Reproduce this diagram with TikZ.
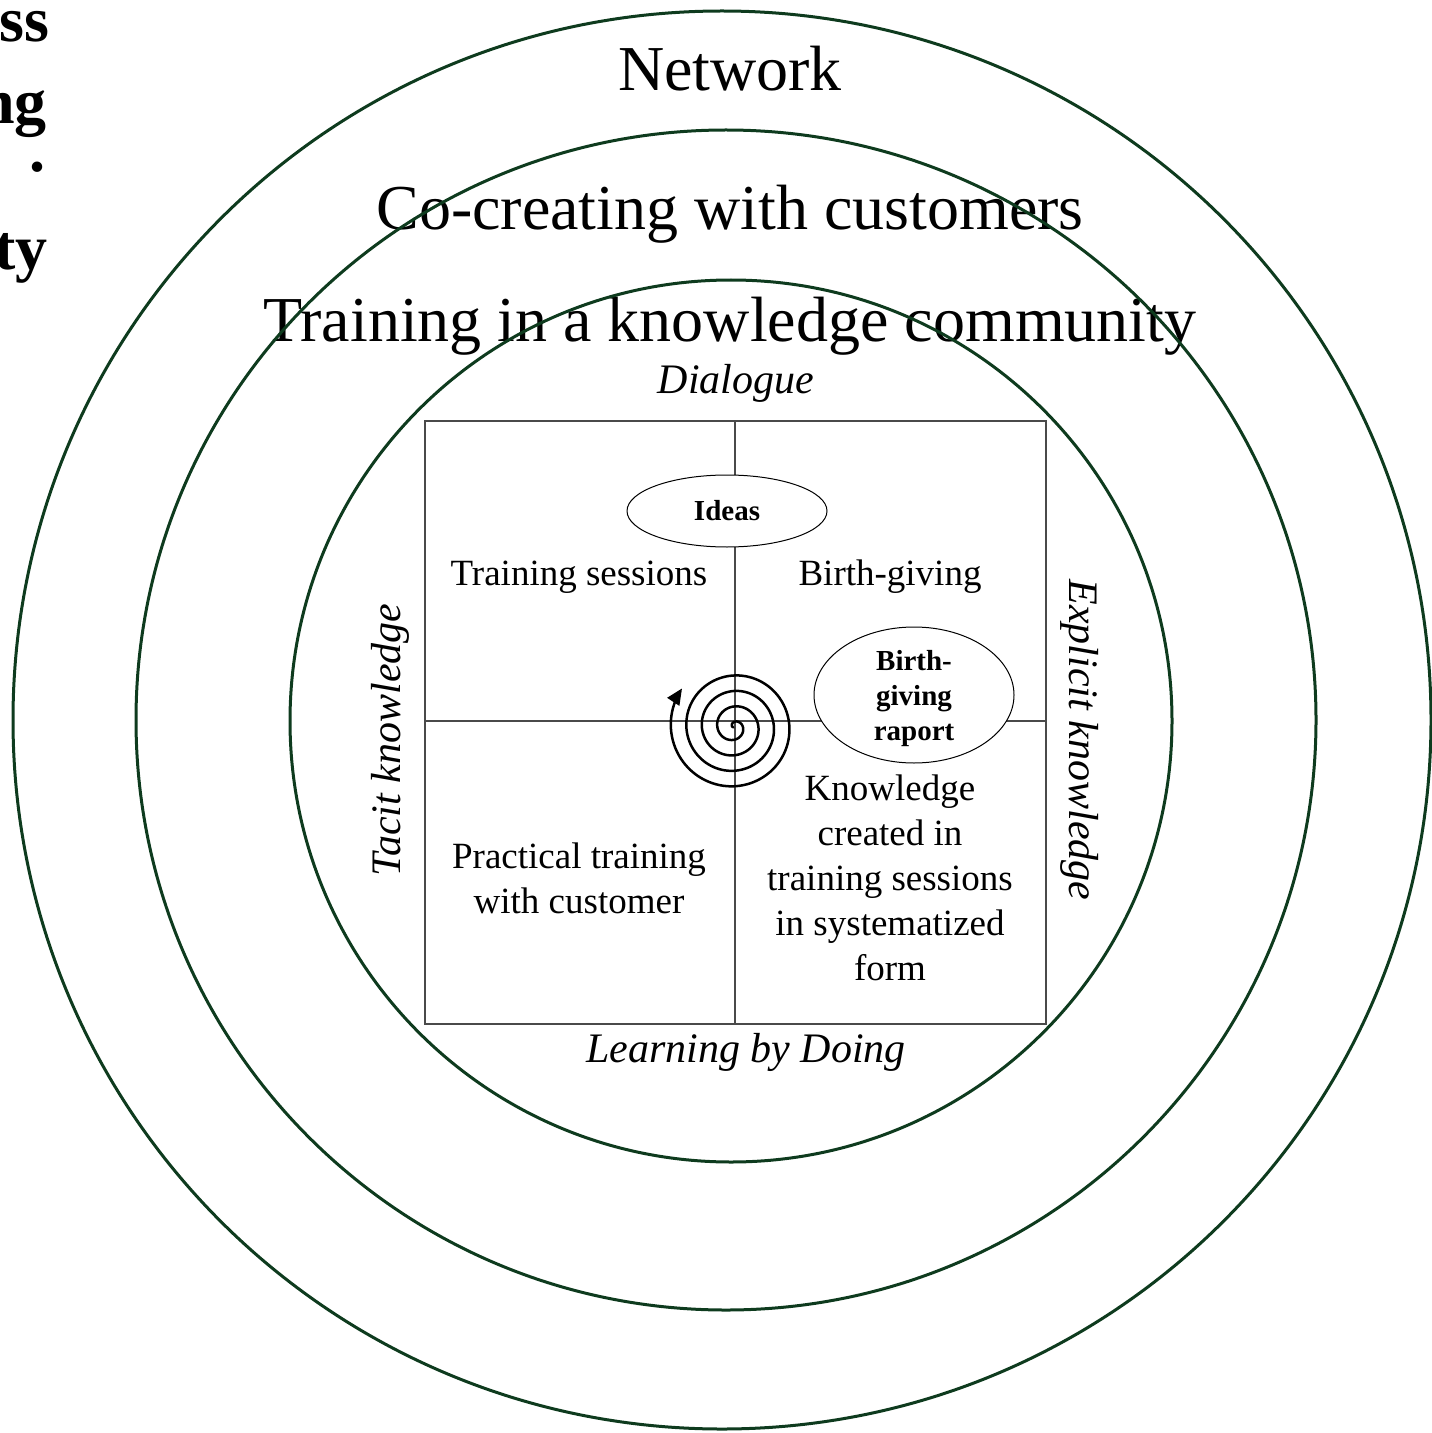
\documentclass[tikz,border=0pt]{standalone}
\usepackage{fontspec}
\setmainfont{Liberation Serif}
\usetikzlibrary{shapes.geometric,arrows.meta}
\definecolor{ringgreen}{HTML}{0E3B1E}
\definecolor{gridgray}{HTML}{4A4A4A}
\tikzset{
  ring/.style={draw=ringgreen,line width=1.5pt},
  grid/.style={draw=gridgray,line width=0.55pt},
  bigtxt/.style={font=\fontsize{32}{38}\selectfont,inner sep=0pt},
  bodytxt/.style={font=\fontsize{18.5}{22.5}\selectfont,align=center,inner sep=0pt},
  axistxt/.style={font=\fontsize{21}{25}\selectfont\itshape,inner sep=0pt},
  bubble/.style={ellipse,draw=black,line width=0.5pt,fill=white,inner sep=0pt,
     font=\fontsize{14.5}{17.5}\selectfont\bfseries,align=center},
  cuttxt/.style={font=\fontsize{32}{38}\selectfont\bfseries,inner sep=0pt,anchor=base east},
}
\begin{document}
\begin{tikzpicture}[x=0.5pt,y=-0.5pt]
\useasboundingbox (0,0) rectangle (1431,1433);
% clipped title fragments
\node[cuttxt] (f1) at (50,42) {ss};
\node[cuttxt] (f2) at (47,124) {ng};
\node[cuttxt] (f3) at (46,172) {.};
\node[cuttxt] (f4) at (48,270) {ty};
% ring titles
\node[bigtxt] (net) at (730,69) {Network};
\node[bigtxt] (cocr) at (730,214) {Co-creating with customers};
\node[bigtxt] (trk) at (730,326) {Training in a knowledge community};
% square and quadrant lines
\coordinate (sqA) at (425,421);
\coordinate (sqB) at (1046,1024);
\coordinate (vt) at (735,421);
\coordinate (vb) at (735,1024);
\coordinate (hl) at (425,721);
\coordinate (hr) at (1046,721);
\draw[grid] (sqA) rectangle (sqB);
\draw[grid] (vt) -- (vb);
\draw[grid] (hl) -- (hr);
% axis labels
\node[axistxt] (dia) at (736,383) {Dialogue};
\node[axistxt] (lbd) at (746,1052) {Learning by Doing};
\node[axistxt,rotate=90] (tac) at (390,740) {Tacit knowledge};
\node[axistxt,rotate=-90] (exp) at (1080,740) {Explicit knowledge};
% quadrant texts
\node[bodytxt] (ts) at (579,577) {Training sessions};
\node[bodytxt] (bg) at (890,577) {Birth-giving};
\node[bodytxt] (pt) at (579,878) {Practical training\\with customer};
\node[bodytxt] (kc) at (890,878) {Knowledge\\created in\\training sessions\\in systematized\\form};
% ellipses
\node[bubble,minimum width=100pt,minimum height=36pt] (ideas) at (727,511) {Ideas};
\node[bubble,minimum width=100pt,minimum height=68pt,text depth=0pt] (bgr) at (914,695) {Birth-\\giving\\raport};
% spiral
\draw[line width=1.25pt,-{Triangle[length=8pt,width=7pt]}] plot[domain=0:4.18,samples=400,smooth]
  ({734 + 15.5*\x*cos(1647-360*\x)},{727 - 15.5*\x*sin(1647-360*\x)});
% rings
\draw[ring] (722,720) circle[radius=354.5pt];
\draw[ring] (726,720) circle[radius=295pt];
\draw[ring] (731,721) circle[radius=220.5pt];
\end{tikzpicture}
\end{document}
